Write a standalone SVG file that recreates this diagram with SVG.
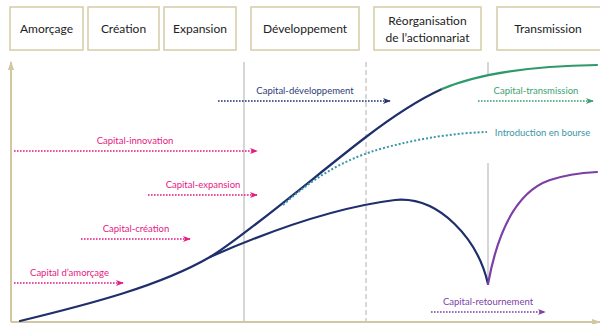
<svg xmlns="http://www.w3.org/2000/svg" width="600" height="324" viewBox="0 0 600 324">
<defs>
<style>
.box{fill:#fff;stroke:#d6cca6;stroke-width:1.5}
.hd{font-family:Lato,"Open Sans",sans-serif;font-size:12px;fill:#222;text-anchor:middle}
.lb{font-family:Lato,"Open Sans",sans-serif;font-size:9.5px;text-anchor:middle}
.dot{fill:none;stroke-width:1.6;stroke-dasharray:1.6 1.4}
.curve{fill:none;stroke-width:2.2;stroke-linecap:round}
</style>
<marker id="mp" viewBox="0 0 10 10" refX="9" refY="5" markerWidth="8" markerHeight="8" markerUnits="userSpaceOnUse" orient="auto"><path d="M0,1 L10,5 L0,9 L3,5 Z" fill="#e5197f"/></marker>
<marker id="mn" viewBox="0 0 10 10" refX="9" refY="5" markerWidth="8" markerHeight="8" markerUnits="userSpaceOnUse" orient="auto"><path d="M0,1 L10,5 L0,9 L3,5 Z" fill="#22326e"/></marker>
<marker id="mg" viewBox="0 0 10 10" refX="9" refY="5" markerWidth="8" markerHeight="8" markerUnits="userSpaceOnUse" orient="auto"><path d="M0,1 L10,5 L0,9 L3,5 Z" fill="#3a9e6e"/></marker>
<marker id="mv" viewBox="0 0 10 10" refX="9" refY="5" markerWidth="8" markerHeight="8" markerUnits="userSpaceOnUse" orient="auto"><path d="M0,1 L10,5 L0,9 L3,5 Z" fill="#7d3fa6"/></marker>
<marker id="ma" viewBox="0 0 10 10" refX="9" refY="5" markerWidth="9" markerHeight="9" markerUnits="userSpaceOnUse" orient="auto"><path d="M0,1.5 L10,5 L0,8.5 Z" fill="#d1c7a0"/></marker>
</defs>
<rect width="600" height="324" fill="#fff"/>

<g id="header-amorcage"><rect class="box" x="10" y="7" width="73" height="43"/><text class="hd" x="46.5" y="33">Amorçage</text></g>
<g id="header-creation"><rect class="box" x="88" y="7" width="71" height="43"/><text class="hd" x="123.5" y="33">Création</text></g>
<g id="header-expansion"><rect class="box" x="164" y="7" width="72" height="43"/><text class="hd" x="200" y="33">Expansion</text></g>
<g id="header-developpement"><rect class="box" x="251" y="7" width="108" height="43"/><text class="hd" x="305" y="33">Développement</text></g>
<g id="header-reorganisation"><rect class="box" x="374" y="7" width="107" height="43"/><text class="hd" x="427.5" y="25">Réorganisation</text><text class="hd" x="427.5" y="42">de l’actionnariat</text></g>
<g id="header-transmission"><rect class="box" x="497" y="7" width="105" height="43"/><text class="hd" x="548" y="33">Transmission</text></g>

<g id="axes">
<line x1="11" y1="322" x2="11" y2="62" stroke="#d1c7a0" stroke-width="2" marker-end="url(#ma)"/>
<line x1="11" y1="322" x2="600" y2="322" stroke="#d1c7a0" stroke-width="2" marker-end="url(#ma)"/>
</g>

<g id="gridlines">
<line x1="244" y1="62" x2="244" y2="321" stroke="#c9c9c9" stroke-width="1.5"/>
<line x1="366" y1="62" x2="366" y2="321" stroke="#bdbdbd" stroke-width="1.2" stroke-dasharray="5 3"/>
<line x1="488" y1="62" x2="488" y2="75" stroke="#c9c9c9" stroke-width="1.5"/>
<line x1="488" y1="163" x2="488" y2="283" stroke="#c9c9c9" stroke-width="1.5"/>
</g>

<g id="curves">
<path class="curve" stroke="#1e2f6b" d="M20,321 C90,304 160,286 210,257 C240,240 325,168 366,137 C400,111 420,99 442,89"/>
<path class="curve" stroke="#2e9a6a" d="M442,89 C480,73 530,66 597,65"/>
<path class="curve" stroke="#1e2f6b" d="M210,257 C260,235 330,208 395,200 C440,196 478,240 488,284"/>
<path class="curve" stroke="#7b3fa5" d="M488,284 C497,235 515,192 550,180 C565,175 580,173 597,172"/>
<path fill="none" stroke="#3a96a8" stroke-width="2" stroke-dasharray="2 2" d="M283,205 C320,172 350,158 380,149 C420,138 455,133 487,132"/>
</g>

<g id="connectors">
<line class="dot" stroke="#e5197f" x1="14" y1="151" x2="257" y2="151" marker-end="url(#mp)"/>
<line class="dot" stroke="#e5197f" x1="148" y1="195" x2="257" y2="195" marker-end="url(#mp)"/>
<line class="dot" stroke="#e5197f" x1="81" y1="239" x2="190" y2="239" marker-end="url(#mp)"/>
<line class="dot" stroke="#e5197f" x1="14" y1="283" x2="123" y2="283" marker-end="url(#mp)"/>
<line class="dot" stroke="#22326e" x1="218" y1="101" x2="390" y2="101" marker-end="url(#mn)"/>
<line class="dot" stroke="#3a9e6e" x1="478" y1="101" x2="593" y2="101" marker-end="url(#mg)"/>
<line class="dot" stroke="#7d3fa6" x1="431" y1="312" x2="545" y2="312" marker-end="url(#mv)"/>
</g>

<g id="labels">
<text class="lb" fill="#e5197f" x="135" y="144">Capital-innovation</text>
<text class="lb" fill="#e5197f" x="203" y="188">Capital-expansion</text>
<text class="lb" fill="#e5197f" x="136" y="232">Capital-création</text>
<text class="lb" fill="#e5197f" x="69.5" y="276">Capital d’amorçage</text>
<text class="lb" fill="#2d3b7a" x="305" y="94">Capital-développement</text>
<text class="lb" fill="#3aa36f" x="536" y="94">Capital-transmission</text>
<text class="lb" fill="#3a96a8" x="542.5" y="136">Introduction en bourse</text>
<text class="lb" fill="#7d3fa6" x="488" y="305">Capital-retournement</text>
</g>
</svg>
